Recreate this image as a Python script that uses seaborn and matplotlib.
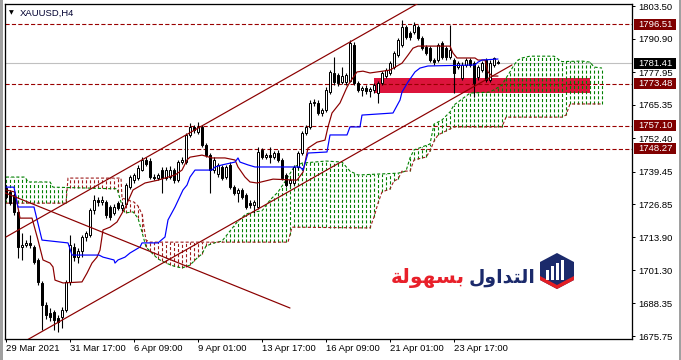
import numpy as np
import matplotlib
matplotlib.use("Agg")
import matplotlib.pyplot as plt
import seaborn as sns
from matplotlib.patches import Rectangle, Polygon

# ---------------- data ----------------
opens = [1733.0, 1731.5, 1730.3, 1723.8, 1710.2, 1711.0, 1711.8, 1710.2, 1705.2, 1696.3,
         1687.8, 1684.7, 1685.0, 1682.7, 1683.1, 1685.8, 1696.7, 1710.2, 1706.3, 1708.5,
         1714.1, 1714.9, 1724.5, 1728.4, 1727.6, 1727.6, 1725.7, 1723.4, 1727.2, 1725.3,
         1727.0, 1733.4, 1736.1, 1737.0, 1740.0, 1743.9, 1743.5, 1737.3, 1737.0, 1740.0,
         1736.9, 1737.3, 1740.0, 1736.1, 1743.1, 1743.1, 1753.6, 1756.7, 1754.7, 1756.7,
         1749.7, 1745.8, 1740.0, 1738.5, 1741.2, 1737.3, 1742.0, 1733.4, 1731.1, 1732.3,
         1730.3, 1727.2, 1726.5, 1725.7, 1747.8, 1745.0, 1745.8, 1745.0, 1746.6, 1743.9,
         1738.1, 1735.0, 1735.0, 1741.2, 1746.6, 1754.3, 1756.7, 1766.0, 1766.0, 1762.1,
         1763.2, 1770.2, 1777.6, 1776.8, 1774.1, 1774.1, 1774.5, 1788.4, 1773.7, 1771.0,
         1771.8, 1770.6, 1771.0, 1769.8, 1773.7, 1776.4, 1777.6, 1779.9, 1784.5, 1788.4,
         1795.4, 1793.0, 1793.4, 1795.4, 1791.1, 1787.6, 1787.2, 1782.6, 1782.6, 1789.2,
         1787.2, 1783.8, 1782.6, 1779.9, 1775.6, 1780.7, 1782.6, 1781.4, 1776.0, 1778.7,
         1782.6, 1774.9, 1780.7, 1781.8]
highs = [1734.2, 1732.3, 1731.1, 1724.5, 1715.6, 1713.0, 1714.9, 1711.0, 1706.0, 1697.0,
         1689.0, 1686.5, 1686.0, 1684.0, 1686.8, 1697.5, 1714.9, 1711.8, 1709.8, 1715.0,
         1716.5, 1725.5, 1730.3, 1729.5, 1729.8, 1728.5, 1726.5, 1726.8, 1728.2, 1727.5,
         1735.0, 1738.2, 1739.0, 1741.8, 1745.0, 1745.0, 1744.5, 1738.5, 1739.0, 1741.0,
         1741.0, 1741.5, 1740.8, 1744.0, 1745.0, 1754.5, 1758.2, 1757.5, 1758.6, 1757.5,
         1750.5, 1746.5, 1745.0, 1742.8, 1742.0, 1742.0, 1743.0, 1734.2, 1733.0, 1733.0,
         1731.1, 1728.5, 1728.5, 1748.9, 1748.5, 1746.8, 1748.9, 1747.5, 1747.8, 1744.5,
         1738.8, 1737.0, 1742.0, 1747.5, 1755.0, 1757.5, 1767.1, 1767.5, 1767.0, 1764.0,
         1772.0, 1778.8, 1783.8, 1777.6, 1780.0, 1777.6, 1790.3, 1789.6, 1774.5, 1772.5,
         1773.0, 1772.2, 1773.7, 1774.5, 1778.5, 1779.5, 1782.2, 1786.0, 1791.0, 1798.1,
         1796.1, 1793.8, 1797.3, 1796.0, 1791.8, 1788.4, 1788.0, 1783.4, 1789.2, 1790.0,
         1788.0, 1796.1, 1783.4, 1782.2, 1781.8, 1783.4, 1783.4, 1782.2, 1780.7, 1782.2,
         1783.4, 1782.6, 1783.8, 1782.6]
lows = [1728.8, 1726.5, 1722.6, 1706.0, 1705.2, 1710.2, 1709.8, 1703.5, 1695.5, 1678.1,
        1682.5, 1681.5, 1678.1, 1677.3, 1679.0, 1685.0, 1695.5, 1704.8, 1704.0, 1706.5,
        1712.5, 1714.0, 1723.0, 1726.0, 1726.5, 1721.5, 1720.5, 1722.5, 1724.5, 1724.0,
        1726.5, 1732.5, 1735.0, 1736.0, 1739.5, 1741.5, 1736.5, 1736.0, 1736.3, 1731.1,
        1736.0, 1736.5, 1735.0, 1735.5, 1742.3, 1742.5, 1752.8, 1754.5, 1754.0, 1749.0,
        1745.0, 1731.1, 1739.0, 1737.5, 1736.0, 1736.5, 1732.5, 1730.3, 1727.6, 1728.8,
        1725.0, 1725.5, 1723.4, 1725.0, 1744.3, 1744.3, 1742.7, 1744.3, 1743.0, 1736.0,
        1733.4, 1734.0, 1734.2, 1740.5, 1746.0, 1753.6, 1756.0, 1765.0, 1761.3, 1761.0,
        1762.5, 1769.5, 1773.0, 1772.5, 1773.5, 1773.0, 1774.0, 1772.9, 1770.2, 1768.5,
        1769.5, 1768.3, 1770.0, 1766.0, 1773.0, 1775.6, 1776.8, 1779.0, 1783.8, 1787.6,
        1790.8, 1790.5, 1792.6, 1790.3, 1786.5, 1784.5, 1781.8, 1780.7, 1781.8, 1783.0,
        1782.6, 1783.0, 1769.8, 1779.0, 1775.0, 1780.0, 1780.0, 1768.3, 1775.0, 1778.0,
        1774.1, 1774.0, 1780.0, 1781.0]
closes = [1729.6, 1727.2, 1723.8, 1710.2, 1711.0, 1711.8, 1711.0, 1704.4, 1696.7, 1687.8,
          1683.9, 1683.1, 1682.0, 1681.2, 1685.8, 1696.7, 1711.0, 1706.3, 1708.5, 1714.1,
          1715.6, 1724.5, 1728.4, 1727.6, 1728.4, 1722.6, 1721.8, 1725.7, 1725.3, 1726.5,
          1734.2, 1737.3, 1738.1, 1740.8, 1743.9, 1742.5, 1737.3, 1737.0, 1738.0, 1736.9,
          1740.0, 1740.0, 1736.1, 1743.1, 1743.9, 1753.6, 1756.7, 1755.5, 1756.7, 1749.7,
          1745.8, 1740.0, 1743.9, 1742.0, 1736.9, 1741.2, 1733.4, 1731.1, 1732.3, 1729.6,
          1725.7, 1726.5, 1727.6, 1747.0, 1745.0, 1745.8, 1745.0, 1746.6, 1744.0, 1736.9,
          1734.2, 1736.1, 1741.2, 1746.6, 1754.3, 1756.7, 1766.0, 1766.5, 1762.1, 1763.2,
          1771.0, 1778.0, 1774.1, 1773.7, 1776.4, 1776.8, 1789.2, 1773.7, 1771.0, 1771.8,
          1770.6, 1771.4, 1772.9, 1773.7, 1777.6, 1778.7, 1781.4, 1785.3, 1790.3, 1795.4,
          1791.5, 1791.5, 1796.1, 1791.1, 1787.2, 1785.3, 1782.6, 1781.8, 1788.4, 1783.8,
          1783.8, 1786.5, 1777.6, 1781.4, 1780.7, 1782.6, 1780.7, 1773.7, 1779.9, 1781.4,
          1774.9, 1781.4, 1783.4, 1781.4]

tenkan_bar = [0, 2.25, 3.5, 6.5, 8, 9.25, 11, 11.75, 12.25, 14.25, 19, 20.25, 21.5, 22.75,
              23.5, 24.25, 26, 27.75, 29.75, 31.75, 34.75, 38, 42.25, 44, 45.25, 46, 49,
              51.5, 54.75, 57.25, 58, 59.75, 61, 62.75, 66.75, 72.75, 74.25, 75.5, 77.75,
              79.75, 80.5, 81.5, 83.5, 85.25, 86, 87.75, 89.25, 91, 96, 99, 100.5, 101.75,
              103, 111, 111.75, 112.75, 117.25, 118, 119.75, 120.5, 121.5, 123]
tenkan_val = [1732.3, 1731.5, 1721.4, 1721.4, 1712.9, 1705.2, 1704.0, 1702.5, 1697.4, 1696.3,
              1696.7, 1700.1, 1704.0, 1706.3, 1709.0, 1716.8, 1717.9, 1719.9, 1725.3, 1732.3,
              1735.0, 1736.1, 1738.1, 1740.0, 1743.9, 1745.0, 1745.8, 1744.7, 1744.7, 1743.9,
              1741.2, 1737.3, 1735.4, 1735.0, 1736.5, 1736.1, 1739.2, 1748.5, 1750.8, 1751.6,
              1756.7, 1762.1, 1766.0, 1772.1, 1774.1, 1778.0, 1778.3, 1777.6, 1778.7, 1781.4,
              1784.5, 1787.2, 1788.0, 1788.0, 1785.3, 1783.4, 1783.4, 1782.6, 1782.6, 1778.0,
              1776.4, 1776.4]

kijun_bar = [0, 2, 3, 7, 9, 15.5, 16.5, 23.25, 24.25, 27, 27.25, 28, 29.75, 31, 33.5, 34, 38,
             39.75, 40.5, 42.25, 44.25, 45.25, 46, 47.25, 51.5, 52.25, 54, 57.25, 58, 58.5,
             60.5, 62.25, 73.5, 74.25, 75.5, 80.25, 81, 85.25, 86, 88.5, 89, 96.75, 98.5, 99,
             100.5, 102.25, 103.5, 105.5, 117.25, 118, 119, 123]
kijun_val = [1733.4, 1733.4, 1725.7, 1725.7, 1712.9, 1711.8, 1707.1, 1707.1, 1706.3, 1705.2,
             1704.0, 1705.2, 1706.3, 1707.9, 1710.2, 1711.8, 1711.8, 1714.1, 1720.7, 1725.7,
             1732.3, 1734.2, 1737.3, 1740.0, 1740.0, 1741.2, 1742.0, 1743.1, 1744.7, 1743.1,
             1742.0, 1741.2, 1741.2, 1740.0, 1746.6, 1747.0, 1753.6, 1753.6, 1756.7, 1756.7,
             1761.3, 1762.1, 1767.1, 1770.2, 1774.1, 1778.0, 1779.5, 1780.3, 1780.7, 1781.8,
             1782.6, 1783.0]

span_a_bar = [0, 4.75, 5.5, 11, 11.75, 26, 27.75, 28.75, 29.75, 31.75, 33, 34, 35, 36, 38, 40,
              42, 44, 46, 48, 49, 50, 52, 54, 56, 58, 60, 62, 64, 66, 68, 70, 72, 74, 80, 84,
              86, 88, 98, 100, 101, 102, 106, 107, 109, 111, 112, 114, 116, 121, 124, 125, 126,
              127, 128, 129, 131, 137, 138, 139, 144, 146, 147, 149]
span_a_val = [1737.3, 1737.3, 1735.4, 1735.4, 1733.4, 1732.8, 1732.8, 1727.6, 1723.4, 1723.8,
              1721.4, 1716.0, 1710.2, 1708.6, 1705.6, 1704.0, 1702.8, 1702.1, 1703.2, 1706.3,
              1707.5, 1710.6, 1711.8, 1712.5, 1716.4, 1720.3, 1723.0, 1723.8, 1724.2, 1728.4,
              1731.5, 1736.1, 1741.2, 1742.7, 1743.5, 1743.1, 1739.6, 1738.1, 1738.8, 1739.6,
              1744.7, 1747.8, 1750.1, 1757.8, 1759.4, 1762.5, 1765.2, 1767.5, 1769.8, 1770.2,
              1772.9, 1775.6, 1778.0, 1780.7, 1782.6, 1783.4, 1784.1, 1784.1, 1783.0, 1782.0,
              1782.2, 1781.8, 1779.9, 1779.5]

span_b_bar = [0, 15, 15.5, 28.75, 29, 32, 33, 34, 35, 36, 70.5, 71.5, 91, 92, 93, 94, 96, 97,
              98, 99, 101, 102, 104, 105, 106, 107, 108, 112, 124, 125, 139, 140, 141, 149]
span_b_val = [1727.2, 1727.2, 1736.9, 1736.9, 1729.2, 1727.6, 1726.1, 1723.0, 1712.9, 1712.1,
              1712.1, 1717.9, 1717.6, 1721.8, 1727.2, 1731.5, 1732.7, 1735.8, 1736.5, 1739.6,
              1739.6, 1743.9, 1744.7, 1745.0, 1747.4, 1751.2, 1753.6, 1756.7, 1756.7, 1760.5,
              1760.5, 1761.3, 1765.6, 1765.6]

channel_upper_bar = [0, 104]
channel_upper_val = [1714.1, 1805.4]
channel_lower_bar = [0, 126.5]
channel_lower_val = [1669.6, 1780.7]
fan_line_bar = [-0.4, 71]
fan_line_val = [1731.3, 1686.6]

level_lines = [1796.51, 1773.48, 1757.10, 1748.27]
bid_price = 1781.41
zone_bars = [92, 146]
zone_prices = [1769.8, 1775.6]

price_ticks = [1803.50, 1790.90, 1777.95, 1765.35, 1752.40, 1739.45, 1726.85, 1713.90,
               1701.30, 1688.35, 1675.75]
date_ticks = [0, 16, 32, 48, 64, 80, 96, 112]
date_labels = ["29 Mar 2021", "31 Mar 17:00", "6 Apr 09:00", "9 Apr 01:00", "13 Apr 17:00",
               "16 Apr 09:00", "21 Apr 01:00", "23 Apr 17:00"]
symbol_label = "XAUUSD,H4"
logo_word_blue = "\uFEDD\uFEED\uFE8D\uFEAA\uFE98\uFEDF\uFE8D"   # التداول (shaped, visual order)
logo_word_red = "\uFE94\uFEDF\uFEEE\uFEEC\uFEB4\uFE91"          # بسهولة (shaped, visual order)

# ---------------- style ----------------
sns.set_theme(style="white")
plt.rcParams["font.family"] = ["Liberation Sans", "DejaVu Sans"]
plt.rcParams["lines.scale_dashes"] = False

W, H = 681, 360
fig = plt.figure(figsize=(W / 100, H / 100), dpi=100)
fig.patch.set_facecolor("white")
L, R, T, B = 4.5, 632.0, 4.0, 339.0
ax = fig.add_axes([L / W, 1 - B / H, (R - L) / W, (B - T) / H])
ax.set_facecolor("white")
ax.set_xlim(-0.375, 156.5)
ax.set_ylim(1674.6, 1804.3)

GREEN = "#008000"
CLOUD_RED = "#9E1B1B"
MAROON = "#8B0000"
LEVEL = "#990000"
PX = 0.72  # one pixel in points

# zone rectangle (behind everything)
ax.add_patch(Rectangle((zone_bars[0], zone_prices[0]), zone_bars[1] - zone_bars[0],
                       zone_prices[1] - zone_prices[0], facecolor="#DC143C",
                       edgecolor="none", zorder=1))

# horizontal levels and bid line
for lv in level_lines:
    ax.axhline(lv, color=LEVEL, lw=PX * 1.1, ls=(0, (3.0, 1.6)), zorder=2)
ax.axhline(bid_price, color="#C0C0C0", lw=PX * 1.1, zorder=2)

# ichimoku cloud (vertical dotted histogram between the spans)
cb = np.arange(0, 150)
sa = np.interp(cb, span_a_bar, span_a_val)
sb = np.interp(cb, span_b_bar, span_b_val)
up = sa >= sb
ax.vlines(cb[up], sb[up], sa[up], colors=GREEN, lw=PX * 1.1,
          linestyles=(0, (2.2, 1.5)), zorder=2.5)
ax.vlines(cb[~up], sa[~up], sb[~up], colors=CLOUD_RED, lw=PX * 1.1,
          linestyles=(0, (2.2, 1.5)), zorder=2.5)
ax.plot(span_a_bar, span_a_val, color=GREEN, lw=PX * 1.1, ls=(0, (2.2, 1.5)), zorder=2.6)
ax.plot(span_b_bar, span_b_val, color=CLOUD_RED, lw=PX * 1.1, ls=(0, (2.2, 1.5)), zorder=2.6)

# candles
o = np.array(opens); hi = np.array(highs); lo = np.array(lows); c = np.array(closes)
x = np.arange(len(o))
ax.vlines(x, lo, hi, colors="black", lw=PX * 1.1, zorder=4)
bull = c >= o
blo = np.minimum(o, c)
bh = np.maximum(np.abs(c - o), 0.2)
ax.bar(x[bull], bh[bull], bottom=blo[bull], width=0.55, color="white",
       edgecolor="black", linewidth=PX, zorder=5)
ax.bar(x[~bull], bh[~bull], bottom=blo[~bull], width=0.55, color="black",
       edgecolor="black", linewidth=PX, zorder=5)

# tenkan / kijun
sns.lineplot(x=tenkan_bar, y=tenkan_val, ax=ax, color=MAROON, linewidth=PX * 1.2,
             estimator=None, sort=False, zorder=6)
sns.lineplot(x=kijun_bar, y=kijun_val, ax=ax, color="#0000FF", linewidth=PX * 1.2,
             estimator=None, sort=False, zorder=6)

# channel / trend lines
for xs, ys in [(channel_upper_bar, channel_upper_val), (channel_lower_bar, channel_lower_val),
               (fan_line_bar, fan_line_val)]:
    sns.lineplot(x=xs, y=ys, ax=ax, color=MAROON, linewidth=PX * 1.2,
                 estimator=None, sort=False, zorder=7)

# axes, ticks
for s in ax.spines.values():
    s.set_color("black")
    s.set_linewidth(PX * 1.3)
ax.yaxis.tick_right()
ax.set_yticks(price_ticks)
ax.set_yticklabels([f"{v:.2f}" for v in price_ticks])
ax.set_xticks(date_ticks)
ax.set_xticklabels(date_labels, ha="left")
ax.tick_params(axis="y", direction="out", length=3 * PX, width=PX, pad=3 * PX,
               labelsize=6.8, colors="black", left=False, right=True)
ax.tick_params(axis="x", direction="out", length=3 * PX, width=PX, pad=2 * PX,
               labelsize=6.8, colors="black", bottom=True)
ax.set_xlabel("")
ax.set_ylabel("")
ax.grid(False)

# price label boxes on the right scale
def box_label(val, fc):
    fig.canvas.draw()
    yd = ax.transData.transform((0, val))[1]
    fig.add_artist(Rectangle((634, yd - 5.5), 42, 11, transform=None, facecolor=fc,
                             edgecolor="none", zorder=10))
    fig.text(638 / W, yd / H, f"{val:.2f}", color="white", fontsize=6.8,
             va="center", ha="left", zorder=11)

for lv in level_lines:
    box_label(lv, "#800000")
box_label(bid_price, "black")

# symbol label
fig.text(9 / W, 1 - 13 / H, "\u25BC", fontsize=4.5, color="black", va="center", ha="left",
         family=["DejaVu Sans"])
fig.text(20 / W, 1 - 13 / H, symbol_label, fontsize=6.8, color="#000030", va="center",
         ha="left")

# window border
fig.add_artist(Rectangle((0, 0), 2.5, H, transform=None, facecolor="#A0A0A0",
                         edgecolor="none"))
fig.add_artist(Rectangle((W - 2.5, 0), 2.5, H, transform=None, facecolor="#A0A0A0",
                         edgecolor="none"))

# logo
def P(px, py):
    return (px / W, 1 - py / H)

NAVY = "#1B2A6B"
fig.add_artist(Polygon([P(557, 253), P(574, 262), P(574, 280), P(557, 289), P(540, 280),
                        P(540, 262)], closed=True, facecolor=NAVY, edgecolor="none",
                       transform=fig.transFigure, zorder=12))
fig.add_artist(Polygon([P(540, 276), P(557, 285), P(574, 276), P(574, 280), P(557, 289),
                        P(540, 280)], closed=True, facecolor="#E31E24", edgecolor="none",
                       transform=fig.transFigure, zorder=13))
for bx, top in [(546, 270), (551, 266), (556, 263), (561, 260)]:
    fig.add_artist(Rectangle(P(bx, 280), 3 / W, (280 - top) / H, facecolor="white",
                             edgecolor="none", transform=fig.transFigure, zorder=14))
fig.text(536 / W, 1 - 283 / H, logo_word_blue, fontsize=13.5, fontweight="bold", color=NAVY,
         ha="right", va="baseline", family=["DejaVu Sans"], zorder=12)
fig.text(465 / W, 1 - 283 / H, logo_word_red, fontsize=14.5, fontweight="bold",
         color="#E8202A", ha="right", va="baseline", family=["DejaVu Sans"], zorder=12)

fig.savefig("out.png", dpi=100)
